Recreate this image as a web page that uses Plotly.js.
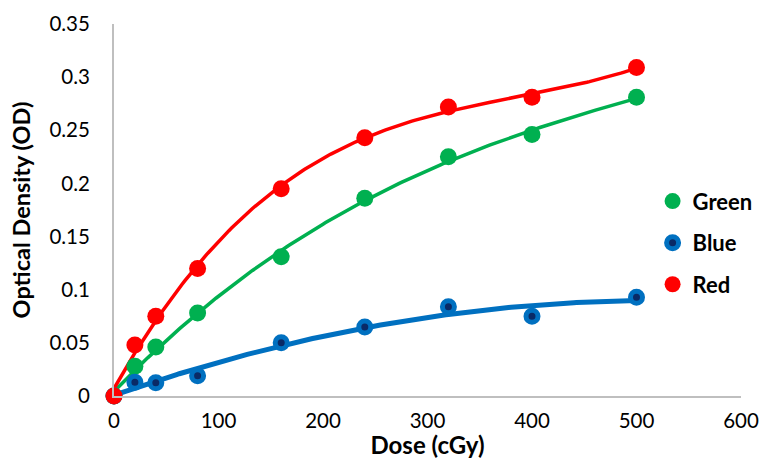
<!DOCTYPE html>
<html>
<head>
<meta charset="utf-8">
<script src="https://cdn.plot.ly/plotly-3.0.1.min.js"></script>
<style>html,body{margin:0;padding:0;background:#fff;}#chart{width:770px;height:459px;}</style>
</head>
<body>
<div id="chart"></div>
<script>
// ---- Data ----
var dose  = [0, 20, 40, 80, 160, 240, 320, 400, 500];
var green = [0, 0.028, 0.046, 0.078, 0.131, 0.186, 0.225, 0.246, 0.281];
var blue  = [0, 0.013, 0.0125, 0.019, 0.050, 0.065, 0.084, 0.075, 0.093];
var red   = [0, 0.048, 0.075, 0.120, 0.195, 0.243, 0.272, 0.281, 0.309];
var seriesNames = ['Green', 'Blue', 'Red'];
var xTickVals = [0, 100, 200, 300, 400, 500, 600];
var yTickVals = [0, 0.05, 0.1, 0.15, 0.2, 0.25, 0.3, 0.35];
var yTickText = ['0', '0.05', '0.1', '0.15', '0.2', '0.25', '0.3', '0.35'];

// ---- least-squares polynomial trendline (like a spreadsheet trendline) ----
function polyfit(xs, ys, deg) {
  var n = deg + 1, A = [], b = [];
  for (var i = 0; i < n; i++) { A.push(new Array(n).fill(0)); b.push(0); }
  for (var k = 0; k < xs.length; k++) {
    for (var i = 0; i < n; i++) {
      for (var j = 0; j < n; j++) A[i][j] += Math.pow(xs[k], i + j);
      b[i] += ys[k] * Math.pow(xs[k], i);
    }
  }
  for (var c = 0; c < n; c++) {
    var p = c;
    for (var r = c + 1; r < n; r++) if (Math.abs(A[r][c]) > Math.abs(A[p][c])) p = r;
    var t = A[c]; A[c] = A[p]; A[p] = t; var tb = b[c]; b[c] = b[p]; b[p] = tb;
    for (var r = c + 1; r < n; r++) {
      var f = A[r][c] / A[c][c];
      for (var j = c; j < n; j++) A[r][j] -= f * A[c][j];
      b[r] -= f * b[c];
    }
  }
  var coef = new Array(n).fill(0);
  for (var i = n - 1; i >= 0; i--) {
    var s = b[i];
    for (var j = i + 1; j < n; j++) s -= A[i][j] * coef[j];
    coef[i] = s / A[i][i];
  }
  return coef;
}
function trend(xs, ys, deg) {
  var c = polyfit(xs, ys, deg);
  var lx = [], ly = [];
  var x0 = xs[0], x1 = xs[xs.length - 1];
  for (var i = 0; i <= 200; i++) {
    var x = x0 + (x1 - x0) * i / 200, y = 0;
    for (var j = 0; j < c.length; j++) y += c[j] * Math.pow(x, j);
    lx.push(x); ly.push(y);
  }
  return {x: lx, y: ly};
}

var gT = trend(dose, green, 3), bT = trend(dose, blue, 2), rT = trend(dose, red, 3);
var FONT = 'Lato, "Open Sans", sans-serif';

var traces = [
  {x: gT.x, y: gT.y, mode: 'lines', line: {color: '#00B050', width: 3.5}, showlegend: false, hoverinfo: 'skip', cliponaxis: false},
  {x: bT.x, y: bT.y, mode: 'lines', line: {color: '#0070C0', width: 5}, showlegend: false, hoverinfo: 'skip', cliponaxis: false},
  {x: rT.x, y: rT.y, mode: 'lines', line: {color: '#FF0000', width: 3.5}, showlegend: false, hoverinfo: 'skip', cliponaxis: false},
  {x: dose, y: green, name: seriesNames[0], mode: 'markers', legendgroup: 'g',
   marker: {color: '#00B050', size: 17}, cliponaxis: false},
  {x: dose, y: blue, name: seriesNames[1], mode: 'markers', legendgroup: 'b',
   marker: {color: '#0A2A66', size: 12, line: {color: '#0070C0', width: 5}}, cliponaxis: false},
  {x: dose, y: red, name: seriesNames[2], mode: 'markers', legendgroup: 'r',
   marker: {color: '#FF0000', size: 17}, cliponaxis: false}
];

var layout = {
  width: 770, height: 459,
  margin: {l: 114, r: 21, t: 24, b: 63},
  paper_bgcolor: '#fff', plot_bgcolor: '#fff',
  font: {family: FONT, size: 20, color: '#000'},
  showlegend: true,
  legend: {
    x: 0.859, xanchor: 'left', y: 0.58, yanchor: 'top',
    font: {family: FONT, size: 22, color: '#000', weight: 'bold'},
    traceorder: 'grouped', tracegroupgap: 10, bgcolor: 'rgba(0,0,0,0)'
  },
  xaxis: {
    range: [0, 600], tickvals: xTickVals, showgrid: false, zeroline: false,
    showline: true, linecolor: '#BFBFBF', linewidth: 2, ticks: '',
    ticklabelstandoff: 5,
    tickfont: {family: FONT, size: 20.5, color: '#000'},
    title: {text: 'Dose (cGy)', font: {family: FONT, size: 24, color: '#000', weight: 'bold'}, standoff: 9}
  },
  yaxis: {
    range: [0, 0.35], tickvals: yTickVals, ticktext: yTickText, showgrid: false, zeroline: false,
    showline: true, linecolor: '#BFBFBF', linewidth: 2, ticks: '',
    ticklabelstandoff: 18,
    tickfont: {family: FONT, size: 20.5, color: '#000'},
    title: {text: 'Optical Density (OD)', font: {family: FONT, size: 23.5, color: '#000', weight: 'bold'}, standoff: 12}
  }
};

Plotly.newPlot('chart', traces, layout, {staticPlot: true, displayModeBar: false});
</script>
</body>
</html>
